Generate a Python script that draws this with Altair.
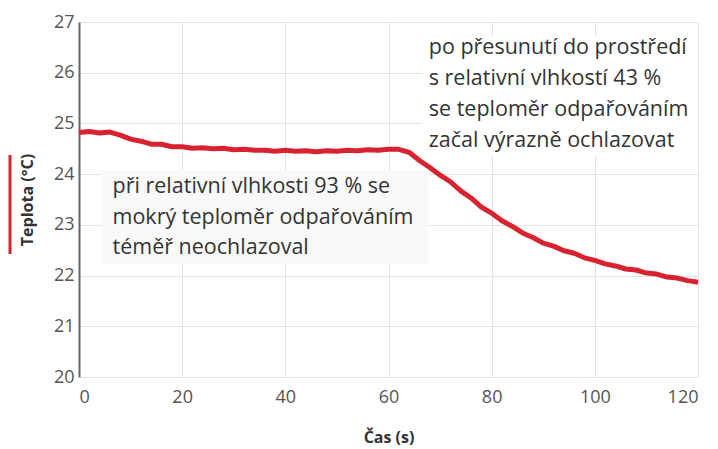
import altair as alt
import pandas as pd

# time (s) and temperature (°C)
time_s = [0, 2, 4, 6, 8, 10, 12, 14, 16, 18, 20, 22, 24, 26, 28, 30, 32, 34, 36, 38,
          40, 42, 44, 46, 48, 50, 52, 54, 56, 58, 60, 62, 64, 66, 68, 70, 72, 74, 76, 78,
          80, 82, 84, 86, 88, 90, 92, 94, 96, 98, 100, 102, 104, 106, 108, 110, 112, 114, 116, 118, 120]
temp_c = [24.82, 24.84, 24.81, 24.83, 24.77, 24.69, 24.65, 24.59, 24.59, 24.54,
          24.54, 24.51, 24.52, 24.50, 24.51, 24.48, 24.49, 24.47, 24.47, 24.45,
          24.47, 24.45, 24.46, 24.44, 24.46, 24.45, 24.47, 24.46, 24.48, 24.47,
          24.49, 24.49, 24.43, 24.27, 24.13, 23.98, 23.85, 23.67, 23.53, 23.35,
          23.23, 23.08, 22.97, 22.84, 22.75, 22.64, 22.58, 22.49, 22.44, 22.35,
          22.30, 22.23, 22.19, 22.13, 22.11, 22.05, 22.03, 21.97, 21.95, 21.90, 21.87]

x_ticks = [0, 20, 40, 60, 80, 100, 120]
y_ticks = [20, 21, 22, 23, 24, 25, 26, 27]

left_lines = ["při relativní vlhkosti 93 % se", "mokrý teploměr odpařováním", "téměř neochlazoval"]
right_lines = ["po přesunutí do prostředí", "s relativní vlhkostí 43 %",
               "se teploměr odpařováním", "začal výrazně ochlazovat"]

RED = "#d7232f"

data = pd.DataFrame({"t": time_s, "T": temp_c})

notes = pd.DataFrame({
    "t": [6.5] * 3 + [67.8] * 4,
    "T": [23.75, 23.14, 22.54, 26.49, 25.88, 25.27, 24.66],
    "text": left_lines + right_lines,
})

boxes = pd.DataFrame({
    "t": [4.3, 66.6],
    "t2": [67.6, 120],
    "T": [24.08, 26.72],
    "T2": [22.24, 24.36],
    "fill": ["#f9f9f9", "#ffffff"],
})

xscale = alt.Scale(domain=[0, 120], nice=False, zero=False)
yscale = alt.Scale(domain=[20, 27], nice=False, zero=False)

xaxis = alt.Axis(values=x_ticks, title="Čas (s)", domain=False, labelPadding=11, titlePadding=23)
yaxis = alt.Axis(values=y_ticks, title="Teplota (°C)", domain=True, domainColor="#666",
                 domainWidth=2, labelPadding=5, titlePadding=18)

X = alt.X("t:Q", scale=xscale, axis=xaxis)
Y = alt.Y("T:Q", scale=yscale, axis=yaxis)

base_line = alt.Chart(data).mark_line(color=RED, strokeWidth=5, strokeJoin="round").encode(
    x=X, y=Y,
)

rects = alt.Chart(boxes).mark_rect().encode(
    x=X, x2="t2:Q", y=Y, y2="T2:Q",
    fill=alt.Fill("fill:N", scale=None),
)

texts = alt.Chart(notes).mark_text(align="left", baseline="middle", fontSize=21.5,
                                   font="Open Sans", color="#333").encode(
    x=X, y=Y, text="text:N",
)

legend_rule = alt.Chart(pd.DataFrame({"k": [0]})).mark_rule(color=RED, strokeWidth=3).encode(
    x=alt.value(-69), y=alt.value(133), y2=alt.value(232),
)

chart = alt.layer(rects, base_line, texts, legend_rule).properties(
    width=619, height=355, padding={"left": 0, "top": 5, "right": 5, "bottom": 5}
).configure_view(stroke=None).configure_axis(
    grid=True, gridColor="#e3e3e3", gridWidth=1, ticks=False,
    labelFont="Open Sans", labelFontSize=18, labelColor="#555",
    titleFont="Open Sans", titleFontSize=16, titleFontWeight="bold", titleColor="#333",
)

chart.save("out.html", embed_options={"renderer": "svg", "actions": False})
